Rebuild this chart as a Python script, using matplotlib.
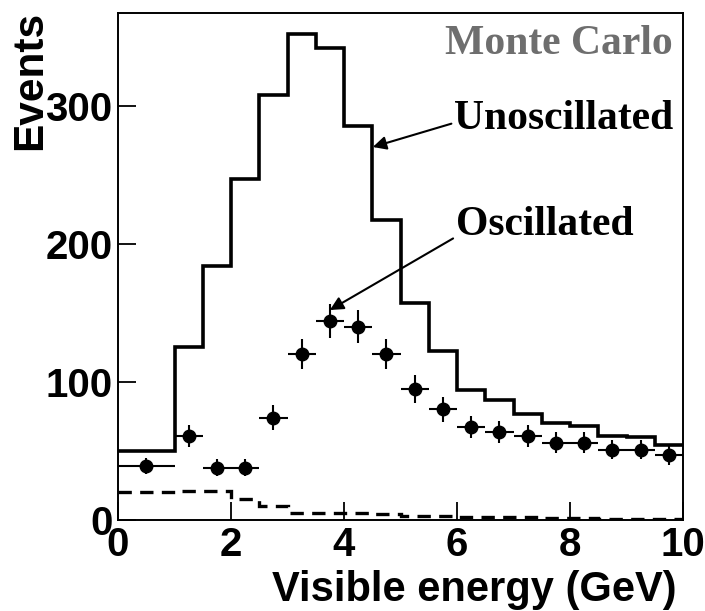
import numpy as np
import matplotlib.pyplot as plt

# bin edges (GeV), 0.5 GeV bins
edges = np.arange(0, 10.01, 0.5)

# unoscillated MC expectation
unosc = [50, 50, 125, 184, 247, 308, 352, 342, 285, 217,
         157, 122, 94, 87, 77, 70, 68, 61, 60, 54]

# background (dashed)
bkg = [20, 20, 21, 21, 15, 10, 5, 5, 5, 4,
       3, 3, 2.5, 2, 2, 1.5, 1.5, 1, 1, 1]

# oscillated MC points
osc_x = [0.5, 1.25, 1.75, 2.25, 2.75, 3.25, 3.75, 4.25, 4.75, 5.25,
         5.75, 6.25, 6.75, 7.25, 7.75, 8.25, 8.75, 9.25, 9.75]
osc_y = [39, 61, 38, 38, 74, 120, 144, 140, 120, 95,
         80, 67, 64, 61, 56, 56, 51, 51, 47]
osc_xerr = [0.5] + [0.25] * 18
osc_yerr = [6, 8, 6, 6, 9, 11, 12, 12, 11, 10,
            9, 8, 8, 8, 7.5, 7.5, 7, 7, 7]

plt.rcParams['font.family'] = ['Liberation Sans', 'DejaVu Sans']
plt.rcParams['font.weight'] = 'bold'
plt.rcParams['axes.labelweight'] = 'bold'

fig = plt.figure(figsize=(7.05, 6.11), dpi=100)
ax = fig.add_axes([118/705, 1 - 520/611, 565/705, 507/611])

ax.stairs(unosc, edges, baseline=None, color='black', linewidth=2.6)
ax.stairs(bkg, edges, baseline=None, color='black', linewidth=2.4,
          linestyle=(0, (4, 2.5)))
ax.errorbar(osc_x, osc_y, xerr=osc_xerr, yerr=osc_yerr, fmt='o',
            color='black', markersize=9, elinewidth=1.5, capsize=0)

ax.set_xlim(0, 10)
ax.set_ylim(0, 367)
ax.set_xticks([0, 2, 4, 6, 8, 10])
ax.set_yticks([0, 100, 200, 300])
ax.tick_params(direction='in', length=13, width=1.3, labelsize=29, pad=4)
for s in ax.spines.values():
    s.set_linewidth(1.4)

ax.set_xlabel('Visible energy (GeV)', fontsize=30, ha='right', va='top')
ax.xaxis.set_label_coords(0.989, -0.098)
ax.set_ylabel('Events', fontsize=30.5, rotation=90)
ax.yaxis.set_label_coords(-0.156, 1.004)
ax.yaxis.label.set_rotation_mode('default')
ax.yaxis.label.set_ha('center')
ax.yaxis.label.set_va('top')

serif = ['Liberation Serif', 'DejaVu Serif']
ax.text(9.82, 337, 'Monte Carlo', family=serif, fontsize=30,
        fontweight='bold', color='#6e6e6e', ha='right', va='baseline')
ax.annotate('Unoscillated', xy=(4.51, 270), xytext=(5.95, 283),
            family=serif, fontsize=30, fontweight='bold', va='baseline',
            arrowprops=dict(arrowstyle='-|>', color='black', lw=1.5,
                            mutation_scale=20, shrinkA=0, shrinkB=0,
                            relpos=(0, 0.4)))
ax.annotate('Oscillated', xy=(3.75, 152), xytext=(5.98, 206),
            family=serif, fontsize=30, fontweight='bold', va='baseline',
            arrowprops=dict(arrowstyle='-|>', color='black', lw=1.5,
                            mutation_scale=20, shrinkA=0, shrinkB=0,
                            relpos=(0, 0.2)))

fig.savefig('out.png', dpi=100)
